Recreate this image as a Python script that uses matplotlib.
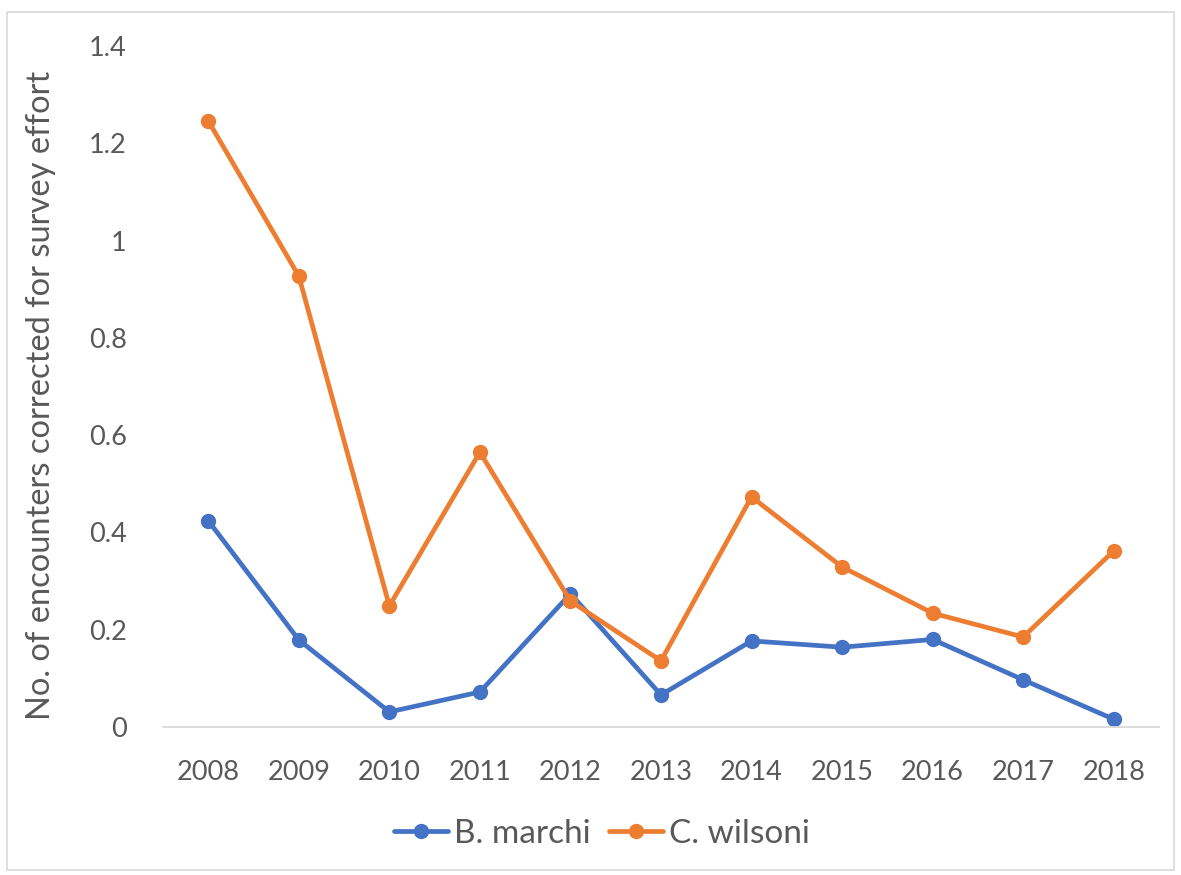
import matplotlib
matplotlib.use("Agg")
import matplotlib.pyplot as plt
from matplotlib.patches import Rectangle

years = ["2008", "2009", "2010", "2011", "2012", "2013", "2014", "2015", "2016", "2017", "2018"]
b_marchi = [0.424, 0.179, 0.031, 0.072, 0.274, 0.066, 0.177, 0.164, 0.180, 0.097, 0.016]
c_wilsoni = [1.246, 0.927, 0.249, 0.565, 0.259, 0.136, 0.473, 0.329, 0.234, 0.185, 0.362]
series_names = ["B. marchi", "C. wilsoni"]
yticks = [0, 0.2, 0.4, 0.6, 0.8, 1.0, 1.2, 1.4]
ytick_labels = ["0", "0.2", "0.4", "0.6", "0.8", "1", "1.2", "1.4"]

plt.rcParams['font.family'] = ['Lato', 'DejaVu Sans']
text_col = "#595959"

fig = plt.figure(figsize=(11.81, 8.75), dpi=100)
fig.patches.append(Rectangle((7/1181, 5/875), 1167/1181, 858/875, transform=fig.transFigure,
                             fill=False, edgecolor="#D9D9D9", linewidth=1.2))
ax = fig.add_axes([163/1181, 1 - 727/875, (1159 - 163)/1181, (727 - 46)/875])

x = list(range(len(years)))
ax.plot(x, b_marchi, color="#4472C4", lw=3.4, marker="o", ms=10, label=series_names[0], solid_capstyle="round")
ax.plot(x, c_wilsoni, color="#ED7D31", lw=3.4, marker="o", ms=10, label=series_names[1], solid_capstyle="round")

ax.set_xlim(-0.5, len(years) - 0.5)
ax.set_ylim(0, 1.4)
ax.set_xticks(x)
ax.set_xticklabels(years)
ax.set_yticks(yticks)
ax.set_yticklabels(ytick_labels)
ax.tick_params(axis="both", length=0, labelsize=19.5, labelcolor=text_col)
ax.tick_params(axis="y", pad=26)
ax.tick_params(axis="x", pad=24)
for s in ["top", "right", "left"]:
    ax.spines[s].set_visible(False)
ax.spines["bottom"].set_color("#D9D9D9")
ax.spines["bottom"].set_linewidth(1.3)
ax.set_ylabel("No. of encounters corrected for survey effort", fontsize=23.5, color=text_col)
ax.yaxis.set_label_coords(-0.107, 0.487)

fig.legend(loc="center", bbox_to_anchor=(0.51, 0.047), ncol=2, frameon=False, fontsize=24,
           labelcolor=text_col, handlelength=1.6, columnspacing=0.55, handletextpad=0.2,
           markerscale=1.0)

fig.savefig("out.png", dpi=100)
